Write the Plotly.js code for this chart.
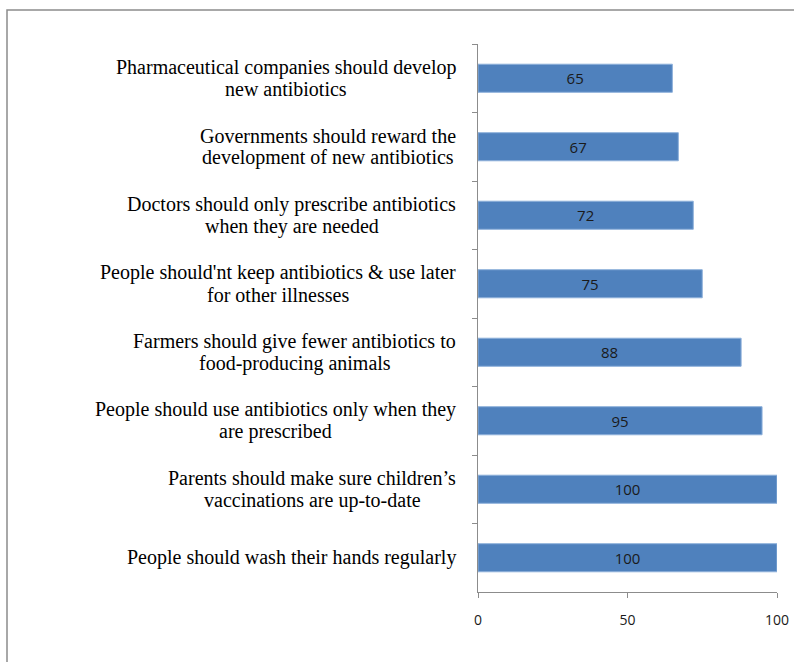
<!DOCTYPE html>
<html>
<head>
<meta charset="utf-8">
<script src="https://cdn.plot.ly/plotly-3.0.1.min.js"></script>
<style>html,body{margin:0;padding:0;background:#fff;}#chart{width:794px;height:662px;}</style>
</head>
<body>
<div id="chart"></div>
<script>
// Categories listed top to bottom
var categories = [
  "Pharmaceutical companies should develop<br>new antibiotics",
  "Governments should reward the<br>development of new antibiotics",
  "Doctors should only prescribe antibiotics<br>when they are needed",
  "People should'nt keep antibiotics & use later<br>for other illnesses",
  "Farmers should give fewer antibiotics to<br>food-producing animals",
  "People should use antibiotics only when they<br>are prescribed",
  "Parents should make sure children\u2019s<br>vaccinations are up-to-date",
  "People should wash their hands regularly"
];
var values = [65, 67, 72, 75, 88, 95, 100, 100];
var xTicks = [0, 50, 100];

var W = 794, H = 662;
var m = {l: 478, r: 17, t: 44, b: 70};
var pw = W - m.l - m.r, ph = H - m.t - m.b;
function px2paperX(p){ return (p - m.l) / pw; }
function px2paperY(p){ return 1 - (p - m.t) / ph; }

var serif = "'Liberation Serif', 'Times New Roman', serif";
var sans = "'Open Sans', 'Liberation Sans', sans-serif";
var labelSize = 20, lineGap = 22, labelRight = 456;

var trace = {
  type: 'bar',
  orientation: 'h',
  y: categories,
  x: values,
  text: values.map(String),
  textposition: 'inside',
  insidetextanchor: 'middle',
  textfont: {family: sans, size: 15, color: '#1a1a1a'},
  marker: {color: '#4F81BD', line: {color: '#8DB0DA', width: 1}},
  width: 0.41,
  hoverinfo: 'none'
};

// category labels: centred block, right edge fixed, custom line spacing
var ctx = document.createElement('canvas').getContext('2d');
ctx.font = labelSize + "px 'Liberation Serif', serif";
function decode(s){ return s.replace(/&amp;/g, '&'); }
var annotations = [];
categories.forEach(function(c){
  var lines = c.split('<br>');
  var maxW = 0;
  lines.forEach(function(l){ maxW = Math.max(maxW, ctx.measureText(decode(l)).width); });
  var cx = labelRight - maxW / 2;
  lines.forEach(function(l, i){
    annotations.push({
      xref: 'paper', yref: 'y', x: px2paperX(cx), y: c,
      yshift: ((lines.length - 1) / 2 - i) * lineGap,
      text: l, showarrow: false, xanchor: 'center', yanchor: 'middle',
      font: {family: serif, size: labelSize, color: '#000'}
    });
  });
});

var layout = {
  width: W, height: H,
  margin: m,
  paper_bgcolor: '#fff', plot_bgcolor: '#fff',
  showlegend: false,
  xaxis: {
    range: [0, 100], tickvals: xTicks, ticktext: xTicks.map(String),
    showgrid: false, zeroline: false, showline: true, linecolor: '#8c8c8c', linewidth: 1,
    ticks: 'outside', ticklen: 5, tickcolor: '#8c8c8c', ticklabelstandoff: 10,
    tickfont: {family: sans, size: 14, color: '#1a1a1a'},
    fixedrange: true
  },
  yaxis: {
    type: 'category', autorange: 'reversed',
    showticklabels: false, showgrid: false, zeroline: false,
    showline: true, linecolor: '#8c8c8c', linewidth: 1,
    ticks: 'outside', ticklen: 5, tickcolor: '#8c8c8c', tickson: 'boundaries',
    fixedrange: true
  },
  annotations: annotations,
  shapes: [{
    type: 'rect', xref: 'paper', yref: 'paper',
    x0: px2paperX(7), x1: px2paperX(820), y0: px2paperY(700), y1: px2paperY(10),
    line: {color: '#8c8c8c', width: 1.5}, fillcolor: 'rgba(0,0,0,0)', layer: 'above'
  }]
};

Plotly.newPlot('chart', [trace], layout, {staticPlot: true, displayModeBar: false});
</script>
</body>
</html>
